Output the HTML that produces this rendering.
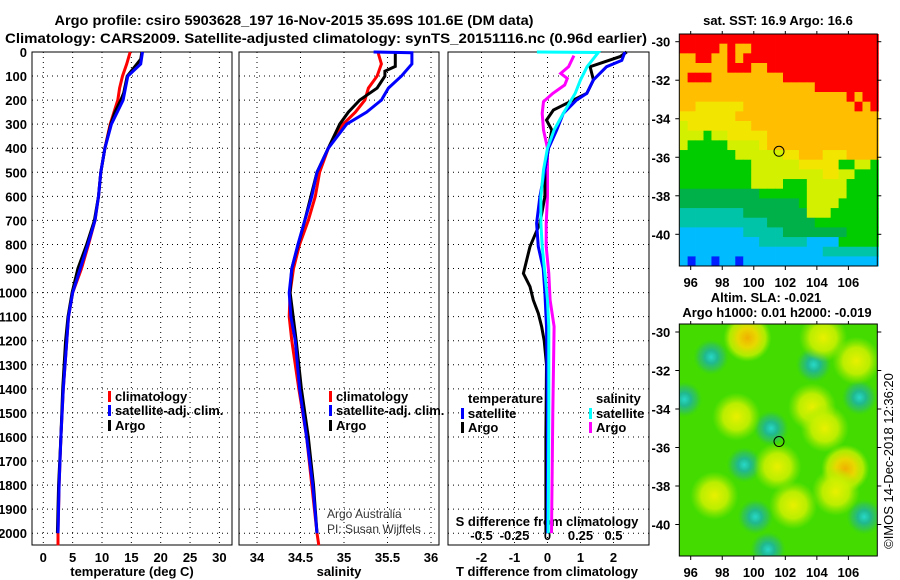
<!DOCTYPE html>
<html><head><meta charset="utf-8"><style>
html,body{margin:0;padding:0;background:#fff}
svg{display:block;font-family:"Liberation Sans",Arial,sans-serif}
.b{font-weight:bold}
</style></head><body>
<svg id="c" width="900" height="580" viewBox="0 0 900 580" xmlns="http://www.w3.org/2000/svg">
<rect width="900" height="580" fill="#fff"/>
<text class="b" x="294" y="25" font-size="14" text-anchor="middle" textLength="479" lengthAdjust="spacingAndGlyphs">Argo profile: csiro 5903628_197 16-Nov-2015 35.69S 101.6E (DM data)</text>
<text class="b" x="326" y="43" font-size="14" text-anchor="middle" textLength="642" lengthAdjust="spacingAndGlyphs">Climatology: CARS2009. Satellite-adjusted climatology: synTS_20151116.nc (0.96d earlier)</text>
<g id="g"></g>
</svg>
<script>
// ---------- data ----------
const depthTicks=[0,100,200,300,400,500,600,700,800,900,1000,1100,1200,1300,1400,1500,1600,1700,1800,1900,2000];
const tempTicks=[0,5,10,15,20,25,30];
const salTicks=[34,34.5,35,35.5,36];
const tdiffTicks=[-2,-1,0,1,2];
const sdiffTicks=[-0.5,-0.25,0,0.25,0.5];
const sdiffTickLabels=["-0.5","-0.25","0","0.25","0.5"];

const climTDepth=[0,50,100,150,200,300,400,500,600,700,800,900,1000,1100,1200,1400,1600,1800,2000,2050];
const climTVal=[14.8,14.2,13.5,13.0,12.7,11.4,10.5,9.8,9.4,8.8,7.7,6.5,5.0,4.3,4.0,3.4,3.0,2.7,2.5,2.5];
const satTDepth=[0,50,100,200,300,400,500,600,700,800,900,1000,1100,1200,1400,1600,1800,2000];
const satTVal=[16.9,16.6,14.4,13.6,11.6,10.5,9.8,9.4,8.8,7.6,6.3,5.0,4.3,4.0,3.4,3.0,2.7,2.5];
const argoTDepth=[0,30,100,170,200,250,300,400,500,600,700,800,900,1000,1100,1200,1400,1600,1800,2000];
const argoTVal=[16.8,16.6,14.3,13.7,13.2,12.2,11.5,10.5,9.8,9.4,8.7,7.4,5.9,4.9,4.2,3.8,3.3,3.0,2.6,2.4];

const climSDepth=[0,50,100,150,200,250,300,400,500,600,700,800,900,1000,1100,1200,1400,1600,1800,2000,2050];
const climSVal=[35.39,35.43,35.38,35.28,35.24,35.13,34.99,34.82,34.72,34.67,34.59,34.49,34.42,34.38,34.37,34.40,34.48,34.57,34.63,34.69,34.71];
const satSDepth=[0,3,50,100,150,200,250,300,400,500,600,700,800,900,1000,1100,1200,1400,1600,1800,2000];
const satSVal=[35.34,35.78,35.78,35.66,35.51,35.43,35.26,35.03,34.82,34.69,34.63,34.55,34.47,34.40,34.37,34.39,34.44,34.49,34.57,34.64,34.69];
const argoSDepth=[0,60,80,100,150,180,200,250,300,400,500,700,900,1000,1200,1400,1600,1800,2000];
const argoSVal=[35.59,35.59,35.47,35.47,35.38,35.26,35.18,35.05,34.95,34.82,34.69,34.55,34.40,34.38,34.45,34.51,34.59,34.65,34.69];

const argoTdDepth=[0,19,61,116,172,241,283,324,400,490,601,712,809,920,975,1031,1086,1141,1200,1300,1600,2000];
const argoTdVal=[2.40,2.20,1.29,1.39,1.19,0.18,-0.03,0.13,0.03,-0.08,-0.08,-0.23,-0.53,-0.73,-0.53,-0.43,-0.28,-0.18,-0.1,-0.03,-0.05,-0.05];
const satTdDepth=[0,35,61,116,172,200,255,324,400,490,601,712,809,900,1000,1141,1500,2000];
const satTdVal=[2.35,2.25,1.79,1.39,1.19,0.88,0.48,0.28,0.03,-0.08,-0.23,-0.33,-0.28,-0.13,-0.08,-0.03,0.0,0.0];
const satSdDepth=[0,2,61,116,172,255,324,400,490,601,712,809,920,1031,1141,1500,2000];
const satSdVal=[-0.08,0.385,0.30,0.25,0.21,0.12,0.05,0.0,-0.03,-0.05,-0.05,-0.04,-0.02,0.0,0.01,0.01,0.005];
const argoSdDepth=[15,61,89,110,137,172,206,255,324,400,490,601,712,809,920,1031,1141,1500,2000];
const argoSdVal=[0.20,0.16,0.10,0.15,0.13,0.04,-0.03,-0.04,-0.03,0.0,0.0,0.0,-0.01,-0.01,0.01,0.02,0.05,0.04,0.03];

const mapLonTicks=[96,98,100,102,104,106];
const mapLatTicks=[-30,-32,-34,-36,-38,-40];
const argoLon=101.6, argoLat=-35.69;
const sstRows=[
"RRRRRRRRRRRRRRRRRRRRRRRRR",
"RRRRROROORRRRRRRRRRRRRRRR",
"OORROORORRRRRRRRRRRRRRRRR",
"OOOOOORRROORRRRRRRRRRRRRR",
"ORRROOOOOOOOORRRRRRRRRRRR",
"OOOOOOOOOOOOOOOOORRRRRRRR",
"OOOOOOOOOOOOOOOOOOOOORORR",
"OOYYYYYYOOOOOOOOOOOOOOROR",
"YYYYYYYOOOOOOOOOOOOOOOOOO",
"yYYYYYYYYOOOOOOOOOOOOOOOO",
"yyyGyyYYYYYOOOOOOOOOOOOOO",
"yGGGGGyyyyYOOOOOOOOOOOOOO",
"GGGGGGGyyyyyyYYOOOYYYOOOO",
"GGGGGGGGGyyyyyyYYYYYGGyyG",
"GGGGGGGGGyyyyyyyyyYYyyGGG",
"GGGGGGGGGyyyyGGGyyyyyGGGG",
"ggggggggggGGGGGGyyyyyGGGG",
"gggggggggggggggGyyyyGGGGG",
"TTTTTTTTggggggggyyyGGGGGG",
"TTTTTTTTTTTggggggGGGGGGGG",
"CCCCCCCCTTTTTggggggggGGGG",
"CCCCCCCCCCTTTTTTCCCCGGGGG",
"CCCCCCCCCCCCCCCCCCTTTTTTT",
"CBCCBCCBCCCCCCCCCCCCCCCCC"];
const slaBlobLon=[99.6,97.3,103.8,104.4,106.7,101.1,95.6,103.7,98.9,99.4,100.1,107.0,100.9,105.8,105.2,101.5,104.5,97.5,102.5,106.5];
const slaBlobLat=[-30.3,-31.3,-31.7,-30.3,-33.4,-35.0,-33.5,-33.9,-34.4,-36.9,-39.6,-39.6,-41.3,-37.1,-38.3,-37.0,-35.0,-38.5,-39.0,-31.5];
const slaBlobType=["o","t","t","y","t","t","t","y","y","t","t","t","t","o","y","y","y","y","y","y"];

// ---------- helpers ----------
const NS="http://www.w3.org/2000/svg";
const G=document.getElementById('g');
function mk(tag,attrs,parent){const e=document.createElementNS(NS,tag);for(const k in attrs)e.setAttribute(k,attrs[k]);(parent||G).appendChild(e);return e;}
const PT=52, PB=545;
function yD(d){return PT+d*0.2406;}
const P1={l:32,r:232}, P2={l:239,r:439}, P3={l:448,r:649};
function xT(v){return 43.3+v*5.87;}
function xS(v){return 257+(v-34)*87;}
function xTd(v){return 547.5+v*33;}
function xSd(v){return 547.5+v*132;}

function panel(P,name){
  const b=mk('rect',{x:P.l,y:PT,width:P.r-P.l,height:PB-PT,fill:'none',stroke:'#000','stroke-width':1});
  
  
  depthTicks.forEach(d=>{
    const y=yD(d);
    if(y>PT+1&&y<PB-1){
      const l=mk('line',{x1:P.l,x2:P.r,y1:y,y2:y,stroke:'#000','stroke-width':1,'stroke-dasharray':'1,4'});
      
      
    }
  });
}
function vgrid(ticks,fx,name){
  ticks.forEach(v=>{
    const x=fx(v);
    const l=mk('line',{x1:x,x2:x,y1:PT,y2:PB,stroke:'#000','stroke-width':1,'stroke-dasharray':'1,4'});
    
    
  });
}
function line(depths,vals,fx,color,name,w){
  const pts=depths.map((d,i)=>fx(vals[i]).toFixed(1)+','+yD(d).toFixed(1)).join(' ');
  const p=mk('polyline',{points:pts,fill:'none',stroke:color,'stroke-width':w||3,'stroke-linejoin':'miter'});
  
  
}
function txt(x,y,s,size,anchor,bold,name,extra){
  const t=mk('text',Object.assign({x:x,y:y,'font-size':size,'text-anchor':anchor||'start'},extra||{}));
  if(bold)t.setAttribute('font-weight','bold');
  t.textContent=s;
  
  
  return t;
}
function legend(x,y,color,label,name){
  const r=mk('rect',{x:x,y:y-9,width:3,height:11,fill:color});
  
  
  txt(x+7,y+1,label,13,'start',true,name);
}

// ---------- profile panels ----------
panel(P1,'temperature-panel');
panel(P2,'salinity-panel');
panel(P3,'difference-panel');
vgrid(tempTicks,xT,'temp-gridline');
vgrid(salTicks,xS,'sal-gridline');
vgrid(tdiffTicks,xTd,'tdiff-gridline');

depthTicks.forEach(d=>txt(27,yD(d)+5,String(d),13,'end',true,'depth-tick-label'));
tempTicks.forEach(v=>txt(xT(v),562,String(v),13,'middle',true,'temp-tick-label'));
salTicks.forEach(v=>txt(xS(v),562,String(v),13,'middle',true,'sal-tick-label'));
tdiffTicks.forEach(v=>txt(xTd(v),562,String(v),13,'middle',true,'tdiff-tick-label'));
sdiffTicks.forEach((v,i)=>txt(xSd(v),540,sdiffTickLabels[i],13,'middle',true,'sdiff-tick-label'));
txt(132,576,'temperature (deg C)',13,'middle',true,'x-axis-title-temperature');
txt(339,576,'salinity',13,'middle',true,'x-axis-title-salinity');
txt(547,576,'T difference from climatology',13,'middle',true,'x-axis-title-tdiff');
txt(547,526,'S difference from climatology',13,'middle',true,'x-axis-title-sdiff');

line(climTDepth,climTVal,xT,'#ff0000','temp-climatology-line');
line(argoTDepth,argoTVal,xT,'#000000','temp-argo-line');
line(satTDepth,satTVal,xT,'#0000ff','temp-satellite-line');
line(climSDepth,climSVal,xS,'#ff0000','sal-climatology-line');
line(argoSDepth,argoSVal,xS,'#000000','sal-argo-line');
line(satSDepth,satSVal,xS,'#0000ff','sal-satellite-line');
line(argoSdDepth,argoSdVal,xSd,'#ff00ff','sdiff-argo-line');
line(argoTdDepth,argoTdVal,xTd,'#000000','tdiff-argo-line');
line(satTdDepth,satTdVal,xTd,'#0000ff','tdiff-satellite-line');
line(satSdDepth,satSdVal,xSd,'#00ffff','sdiff-satellite-line');

legend(108,400,'#ff0000','climatology','legend-climatology');
legend(108,414,'#0000ff','satellite-adj. clim.','legend-satellite-adj');
legend(108,429,'#000000','Argo','legend-argo');
legend(329,400,'#ff0000','climatology','legend2-climatology');
legend(329,414,'#0000ff','satellite-adj. clim.','legend2-satellite-adj');
legend(329,429,'#000000','Argo','legend2-argo');
txt(327,518,'Argo Australia',12,'start',false,'credit-argo-australia',{fill:'#333'});
txt(327,533,'PI: Susan Wijffels',12,'start',false,'credit-pi',{fill:'#333'});
txt(468,403,'temperature',13,'start',true,'legend-temperature-heading');
legend(461,417,'#0000ff','satellite','legend-t-satellite');
legend(461,431,'#000000','Argo','legend-t-argo');
txt(596,403,'salinity',13,'start',true,'legend-salinity-heading');
legend(589,417,'#00ffff','satellite','legend-s-satellite');
legend(589,431,'#ff00ff','Argo','legend-s-argo');

// ---------- maps ----------
const M1={l:679.3,r:877.3,t:34,b:266}, M2={l:679.3,r:877.3,t:324,b:556};
function mx(lon){return 690.7+(lon-96)*15.77;}
function my1(lat){return 41.7+(-30-lat)*19.26;}
function my2(lat){return 332+(-30-lat)*19.25;}
const sstColor={R:'#ff0000',O:'#ffbf00',Y:'#f2e600',y:'#d2f000',G:'#00cc00',g:'#00b048',T:'#00c4a8',C:'#00bcff',B:'#0020ff'};
const lon0=95.3, dLon=(107.9-95.3)/25, lat0=-29.6, dLat=(41.65-29.6)/24;
const m1=mk('g',{});


sstRows.forEach((row,r)=>{
  for(let c=0;c<row.length;c++){
    const x0=mx(lon0+c*dLon), x1=mx(lon0+(c+1)*dLon);
    const y0=my1(lat0-r*dLat), y1=my1(lat0-(r+1)*dLat);
    const cell=mk('rect',{x:x0.toFixed(2),y:y0.toFixed(2),width:(x1-x0+0.4).toFixed(2),height:(y1-y0+0.4).toFixed(2),fill:sstColor[row[c]]},m1);
    
    
  }
});
const defs=mk('defs',{});
defs.innerHTML='<clipPath id="cm2"><rect x="679.3" y="324" width="198" height="232"/></clipPath>'+
'<radialGradient id="bt"><stop offset="0" stop-color="#28d8c8"/><stop offset="0.35" stop-color="#20b890"/><stop offset="0.7" stop-color="#30c060" stop-opacity="0.7"/><stop offset="1" stop-color="#30d020" stop-opacity="0"/></radialGradient>'+
'<radialGradient id="by"><stop offset="0" stop-color="#e8f000"/><stop offset="0.55" stop-color="#c8f000" stop-opacity="0.9"/><stop offset="1" stop-color="#a0ec00" stop-opacity="0"/></radialGradient>'+
'<radialGradient id="bo"><stop offset="0" stop-color="#f0b000"/><stop offset="0.4" stop-color="#e8d800"/><stop offset="0.75" stop-color="#c8f000" stop-opacity="0.8"/><stop offset="1" stop-color="#a0ec00" stop-opacity="0"/></radialGradient>';
const m2=mk('g',{'clip-path':'url(#cm2)'});


mk('rect',{x:M2.l,y:M2.t,width:M2.r-M2.l,height:M2.b-M2.t,fill:'#44dc00'},m2);
slaBlobLon.forEach((lon,i)=>{
  const t=slaBlobType[i];
  const rr=t==='t'?18:24;
  const bl=mk('circle',{cx:mx(lon),cy:my2(slaBlobLat[i]),r:rr,fill:t==='t'?'url(#bt)':(t==='o'?'url(#bo)':'url(#by)')},m2);
  
  
});
[[M1,my1,'sst'],[M2,my2,'sla']].forEach(([M,fy,nm])=>{
  const f=mk('rect',{x:M.l,y:M.t,width:M.r-M.l,height:M.b-M.t,fill:'none',stroke:'#000','stroke-width':1});
  
  
  mapLonTicks.forEach(v=>{
    mk('line',{x1:mx(v),x2:mx(v),y1:M.b,y2:M.b+4,stroke:'#000'});
    mk('line',{x1:mx(v),x2:mx(v),y1:M.t,y2:M.t-3,stroke:'#000'});
    txt(mx(v),M.b+21,String(v),13,'middle',true,nm+'-lon-tick-label');
  });
  mapLatTicks.forEach(v=>{
    mk('line',{x1:M.l-4,x2:M.l,y1:fy(v),y2:fy(v),stroke:'#000'});
    mk('line',{x1:M.r,x2:M.r+4,y1:fy(v),y2:fy(v),stroke:'#000'});
    txt(M.l-9,fy(v)+5,String(v),13,'end',true,nm+'-lat-tick-label');
  });
});
const c1=mk('circle',{cx:mx(argoLon),cy:my1(argoLat),r:5,fill:'none',stroke:'#000','stroke-width':1});


const c2=mk('circle',{cx:mx(argoLon),cy:my2(argoLat),r:5,fill:'none',stroke:'#000','stroke-width':1});


txt(778,25,'sat. SST: 16.9 Argo: 16.6',13,'middle',true,'sst-map-title');
txt(766,302,'Altim. SLA: -0.021',13,'middle',true,'sla-map-title');
txt(777,317,'Argo h1000: 0.01 h2000: -0.019',13,'middle',true,'argo-height-title');
txt(0,0,'©IMOS 14-Dec-2018 12:36:20',13,'middle',false,'imos-timestamp',{transform:'translate(893,461) rotate(-90)'});
</script>
</body></html>
